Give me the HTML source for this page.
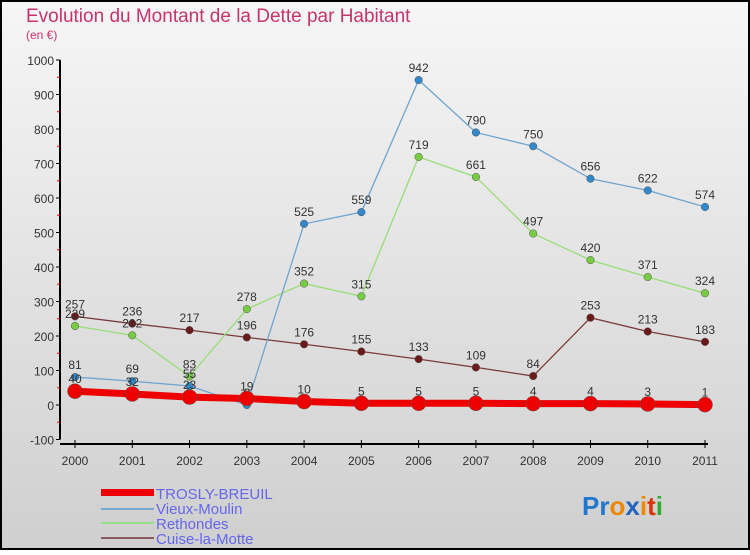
<!DOCTYPE html>
<html><head><meta charset="utf-8"><style>
body{margin:0;width:750px;height:550px;overflow:hidden;font-family:"Liberation Sans",sans-serif}
svg text{font-family:"Liberation Sans",sans-serif}
</style></head><body>
<svg id="c" width="750" height="550">
<defs><linearGradient id="bg" x1="0" y1="0" x2="0" y2="1"><stop offset="0" stop-color="#f6f6f6"/><stop offset="1" stop-color="#cfcfcf"/></linearGradient></defs>
<rect x="0" y="0" width="750" height="550" fill="url(#bg)"/>
<rect x="1" y="1" width="748" height="548" fill="none" stroke="#000" stroke-width="2"/>
<text x="26" y="22" font-size="19" fill="#c8336b">Evolution du Montant de la Dette par Habitant</text>
<text x="26" y="39" font-size="12" fill="#c8336b">(en €)</text>
<g id="axes"></g><g id="series"></g>
<g>
<rect x="101" y="489" width="53" height="7" fill="#e00"/>
<text x="156" y="499" font-size="15" fill="#6666ee">TROSLY-BREUIL</text>
<line x1="101" y1="509" x2="154" y2="509" stroke="#7aa7cc" stroke-width="2"/>
<text x="156" y="514" font-size="15" fill="#6666ee">Vieux-Moulin</text>
<line x1="101" y1="523" x2="154" y2="523" stroke="#99dd88" stroke-width="2"/>
<text x="156" y="529" font-size="15" fill="#6666ee">Rethondes</text>
<line x1="101" y1="538" x2="154" y2="538" stroke="#8b5a5a" stroke-width="2"/>
<text x="156" y="544" font-size="15" fill="#6666ee">Cuise-la-Motte</text>
</g>
<text x="582" y="515" font-size="26" font-weight="bold"><tspan fill="#2277cc">Pr</tspan><tspan fill="#ee8800">o</tspan><tspan fill="#2266bb">x</tspan><tspan fill="#ee8800">i</tspan><tspan fill="#dd3300">t</tspan><tspan fill="#33aa33">i</tspan></text>
</svg>
<script>
const years=["2000","2001","2002","2003","2004","2005","2006","2007","2008","2009","2010","2011"];
const yTicks=[-100,0,100,200,300,400,500,600,700,800,900,1000];
const trosly=[40,32,23,19,10,5,5,5,4,4,3,1];
const vieux=[81,69,55,0,525,559,942,790,750,656,622,574];
const rethondes=[229,202,83,278,352,315,719,661,497,420,371,324];
const cuise=[257,236,217,196,176,155,133,109,84,253,213,183];
const NS="http://www.w3.org/2000/svg";
const X=i=>75+i*(630/11);
const Y=v=>405-v*0.345;
function mk(t,a,p){const e=document.createElementNS(NS,t);for(const k in a)e.setAttribute(k,a[k]);p.appendChild(e);return e;}
const ax=document.getElementById('axes');
let l=mk('line',{x1:60,y1:Y(1000),x2:60,y2:Y(-100),stroke:'#000','stroke-width':2},ax);


l=mk('line',{x1:60,y1:444,x2:708,y2:444,stroke:'#000','stroke-width':2},ax);


yTicks.forEach(v=>{
 mk('line',{x1:56,y1:Y(v),x2:60,y2:Y(v),stroke:'#000'},ax);
 if(v<1000) mk('line',{x1:57,y1:Y(v+50),x2:60,y2:Y(v+50),stroke:'#e00'},ax);
 const t=mk('text',{x:54,y:Y(v)+5,'font-size':12,'text-anchor':'end',fill:'#333'},ax);t.textContent=v;
 
 
});
years.forEach((y,i)=>{
 mk('line',{x1:X(i),y1:440,x2:X(i),y2:448,stroke:'#000'},ax);
 const t=mk('text',{x:X(i),y:465,'font-size':12,'text-anchor':'middle',fill:'#333'},ax);t.textContent=y;
 
 
});
const sg=document.getElementById('series');
function draw(name,data,color,dot,w,r){
 const g=mk('g',{},sg);
 
 
 const p=mk('polyline',{points:data.map((v,i)=>X(i)+','+Y(v)).join(' '),fill:'none',stroke:color,'stroke-width':w},g);
 
 
 data.forEach((v,i)=>{
  const c=mk('circle',{cx:X(i),cy:Y(v),r:r,fill:dot,stroke:'#555','stroke-width':0.5},g);
  
  
  const t=mk('text',{x:X(i),y:Y(v)-8,'font-size':12,'text-anchor':'middle',fill:'#333'},g);t.textContent=v;
  
  
 });
}
draw('cuise-la-motte',cuise,'#7a3a3a','#6b1a1a',1.3,3.8);
draw('rethondes',rethondes,'#99dd77','#77cc44',1.3,3.8);
draw('vieux-moulin',vieux,'#6fa4d0','#3388cc',1.3,3.8);
draw('trosly-breuil',trosly,'#ee0000','#ee0000',7,7.5);
</script>
</body></html>
